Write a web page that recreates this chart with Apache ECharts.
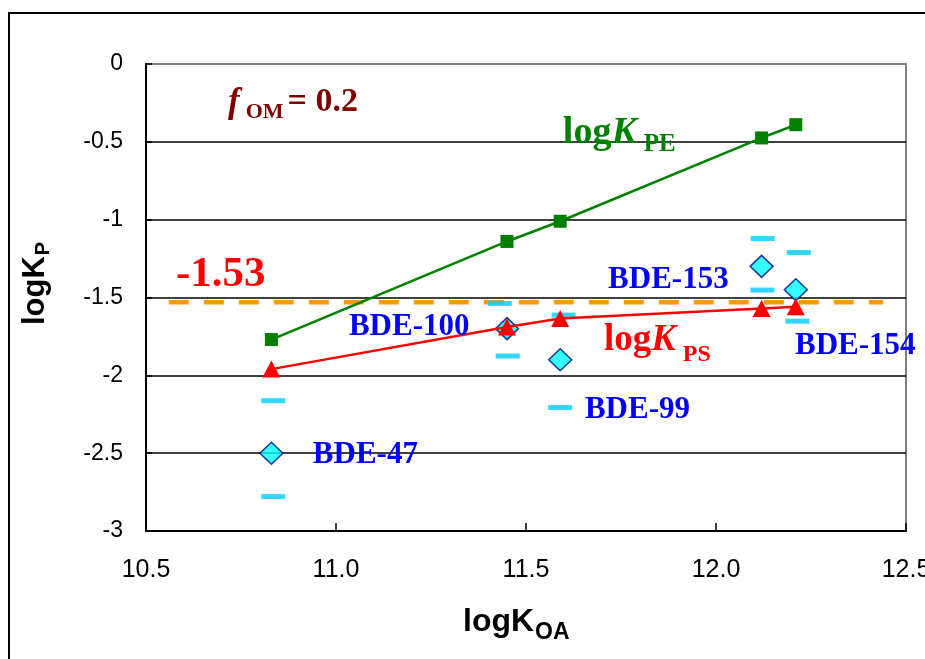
<!DOCTYPE html>
<html>
<head>
<meta charset="utf-8">
<script src="https://cdn.jsdelivr.net/npm/echarts@6/dist/echarts.min.js"></script>
<style>
  html, body { margin: 0; padding: 0; background: #fff; }
  #chart { width: 925px; height: 659px; }
</style>
</head>
<body>
<div id="chart"></div>
<script>
// PBDE congeners, ordered by octanol–air partition coefficient
const congeners = ['BDE-47', 'BDE-100', 'BDE-99', 'BDE-153', 'BDE-154'];
const logKOA = [10.83, 11.45, 11.59, 12.12, 12.21];

// Predicted partition coefficients (PE and PS passive samplers)
const logKPE = [-1.77, -1.14, -1.01, -0.475, -0.39];
const logKPS = [-1.96, -1.69, -1.635, -1.57, -1.56];

// Measured logKP and the upper / lower ends of its range
const logKPmeasured = [-2.50, -1.70, -1.90, -1.30, -1.45];
const upperX = [10.835, 11.431, 11.599, 12.123, 12.218];
const upperY = [-2.163, -1.538, -1.613, -1.121, -1.211];
const lowerX = [10.835, 11.452, 11.590, 12.122, 12.214];
const lowerY = [-2.779, -1.876, -2.207, -1.452, -1.652];

// Threshold level and the span it is drawn over
const thresholdValue = -1.53;
const thresholdSpan = [10.56, 12.44];

// Tick labels
const xTickLabels = ['10.5', '11.0', '11.5', '12.0', '12.5'];
const yTickLabels = ['-3', '-2.5', '-2', '-1.5', '-1', '-0.5', '0'];

const SERIF = '"Liberation Serif", "Times New Roman", serif';
const SANS = '"Liberation Sans", Arial, sans-serif';

const chart = echarts.init(document.getElementById('chart'), null, { renderer: 'canvas' });

const pairs = (xs, ys) => xs.map((x, i) => [x, ys[i]]);

chart.setOption({
  animation: false,
  backgroundColor: '#fff',
  grid: {
    left: 146, top: 64, width: 760, height: 467,
    outerBoundsMode: 'none', containLabel: false,
    show: true, borderColor: '#808080', borderWidth: 2, backgroundColor: 'transparent'
  },
  xAxis: {
    type: 'value', min: 10.5, max: 12.5, interval: 0.5,
    axisLine: { show: true, onZero: false, lineStyle: { color: '#000', width: 2 } },
    axisTick: { show: true, inside: true, length: 8, lineStyle: { color: '#000', width: 1.5 } },
    axisLabel: {
      margin: 27, fontSize: 25, color: '#000', fontFamily: SANS,
      formatter: v => xTickLabels[Math.round((v - 10.5) / 0.5)]
    },
    splitLine: { show: false }
  },
  yAxis: {
    type: 'value', min: -3, max: 0, interval: 0.5,
    axisLine: { show: true, onZero: false, lineStyle: { color: '#000', width: 2 } },
    axisTick: { show: true, inside: true, length: 6, lineStyle: { color: '#000', width: 1.5 } },
    axisLabel: {
      margin: 23, fontSize: 23, color: '#000', fontFamily: SANS,
      formatter: v => yTickLabels[Math.round((v + 3) / 0.5)]
    },
    splitLine: { show: true, showMinLine: false, showMaxLine: false, lineStyle: { color: '#000', width: 1.5 } }
  },
  series: [
    {
      name: 'threshold', type: 'line', silent: true, symbol: 'none', z: 2,
      data: thresholdSpan.map(x => [x, thresholdValue]),
      lineStyle: { color: '#FF9900', width: 4.5, type: [20, 15] }
    },
    {
      name: 'range', type: 'scatter', silent: true, z: 3,
      symbol: 'rect', symbolSize: [24, 5],
      data: pairs(upperX, upperY).concat(pairs(lowerX, lowerY)),
      itemStyle: { color: '#00CCFF' }
    },
    {
      name: 'measured', type: 'scatter', silent: true, z: 3,
      symbol: 'diamond', symbolSize: [23, 22],
      data: pairs(logKOA, logKPmeasured),
      itemStyle: { color: '#00FFFF', borderColor: '#000080', borderWidth: 1.5 }
    },
    {
      name: 'logKPE', type: 'line', silent: true, z: 4,
      symbol: 'rect', symbolSize: 13, showAllSymbol: true,
      data: pairs(logKOA, logKPE),
      lineStyle: { color: '#008000', width: 2.5 },
      itemStyle: { color: '#008000' }
    },
    {
      name: 'logKPS', type: 'line', silent: true, z: 4,
      symbol: 'triangle', symbolSize: [18, 17], showAllSymbol: true,
      data: pairs(logKOA, logKPS),
      lineStyle: { color: '#FF0000', width: 2.5 },
      itemStyle: { color: '#FF0000' }
    }
  ]
});

// Text annotations, anchored (top-left) in data coordinates
const tok = (font, extra) => Object.assign({ font: font, verticalAlign: 'top' }, extra || {});
const annotations = [
  {
    at: [10.716, -0.137],
    text: '{f|f}{s|OM}{m|= 0.2}',
    fill: '#800000',
    rich: {
      f: tok('italic bold 35px ' + SERIF, { lineHeight: 35 }),
      s: tok('bold 22px ' + SERIF, { lineHeight: 22, padding: [15.5, 0, 0, 6] }),
      m: tok('bold 34px ' + SERIF, { lineHeight: 34, padding: [0, 0, 0, 4] })
    }
  },
  {
    at: [10.579, -1.217],
    text: '{m|' + thresholdValue.toFixed(2) + '}',
    fill: '#FF0000',
    rich: { m: tok('bold 43px ' + SERIF, { lineHeight: 43 }) }
  },
  {
    at: [11.597, -0.324],
    text: '{m|log}{k|K}{s|PE}',
    fill: '#008000',
    rich: {
      m: tok('bold 38px ' + SERIF, { lineHeight: 38 }),
      k: tok('italic bold 38px ' + SERIF, { lineHeight: 38 }),
      s: tok('bold 25px ' + SERIF, { lineHeight: 25, padding: [17.5, 0, 0, 7] })
    }
  },
  {
    at: [11.705, -1.659],
    text: '{m|log}{k|K}{s|PS}',
    fill: '#FF0000',
    rich: {
      m: tok('bold 37px ' + SERIF, { lineHeight: 37 }),
      k: tok('italic bold 37px ' + SERIF, { lineHeight: 37 }),
      s: tok('bold 24px ' + SERIF, { lineHeight: 24, padding: [20.5, 0, 0, 7] })
    }
  }
];
const congenerLabelAt = [
  [10.939, -2.415],
  [11.034, -1.593],
  [11.655, -2.126],
  [11.716, -1.291],
  [12.208, -1.715]
];
congeners.forEach((name, i) => {
  annotations.push({
    at: congenerLabelAt[i],
    text: '{m|' + name + '}',
    fill: '#0000FF',
    rich: { m: tok('bold 31px ' + SERIF, { lineHeight: 31 }) }
  });
});

const graphics = annotations.map(a => {
  const p = chart.convertToPixel({ gridIndex: 0 }, a.at);
  return {
    type: 'text', x: p[0], y: p[1], silent: true, z: 10,
    style: { text: a.text, rich: a.rich, fill: a.fill, align: 'left', verticalAlign: 'top' }
  };
});

// Axis titles
graphics.push({
  type: 'text', x: 463, y: 606, silent: true, z: 10,
  style: {
    text: '{m|logK}{s|OA}', fill: '#000', align: 'left', verticalAlign: 'top',
    rich: {
      m: tok('bold 32px ' + SANS, { lineHeight: 32 }),
      s: tok('bold 23px ' + SANS, { lineHeight: 23, padding: [15, 0, 0, 1] })
    }
  }
});
graphics.push({
  type: 'text', x: 20, y: 325, rotation: Math.PI / 2, silent: true, z: 10,
  style: {
    text: '{m|logK}{s|P}', fill: '#000', align: 'left', verticalAlign: 'top',
    rich: {
      m: tok('bold 31px ' + SANS, { lineHeight: 31 }),
      s: tok('bold 20px ' + SANS, { lineHeight: 20, padding: [13, 0, 0, 1] })
    }
  }
});

// Outer chart frame
graphics.push({
  type: 'rect', silent: true, z: 0,
  shape: { x: 9, y: 13, width: 1000, height: 1000 },
  style: { fill: 'none', stroke: '#000', lineWidth: 2 }
});

chart.setOption({ graphic: graphics });
</script>
</body>
</html>
